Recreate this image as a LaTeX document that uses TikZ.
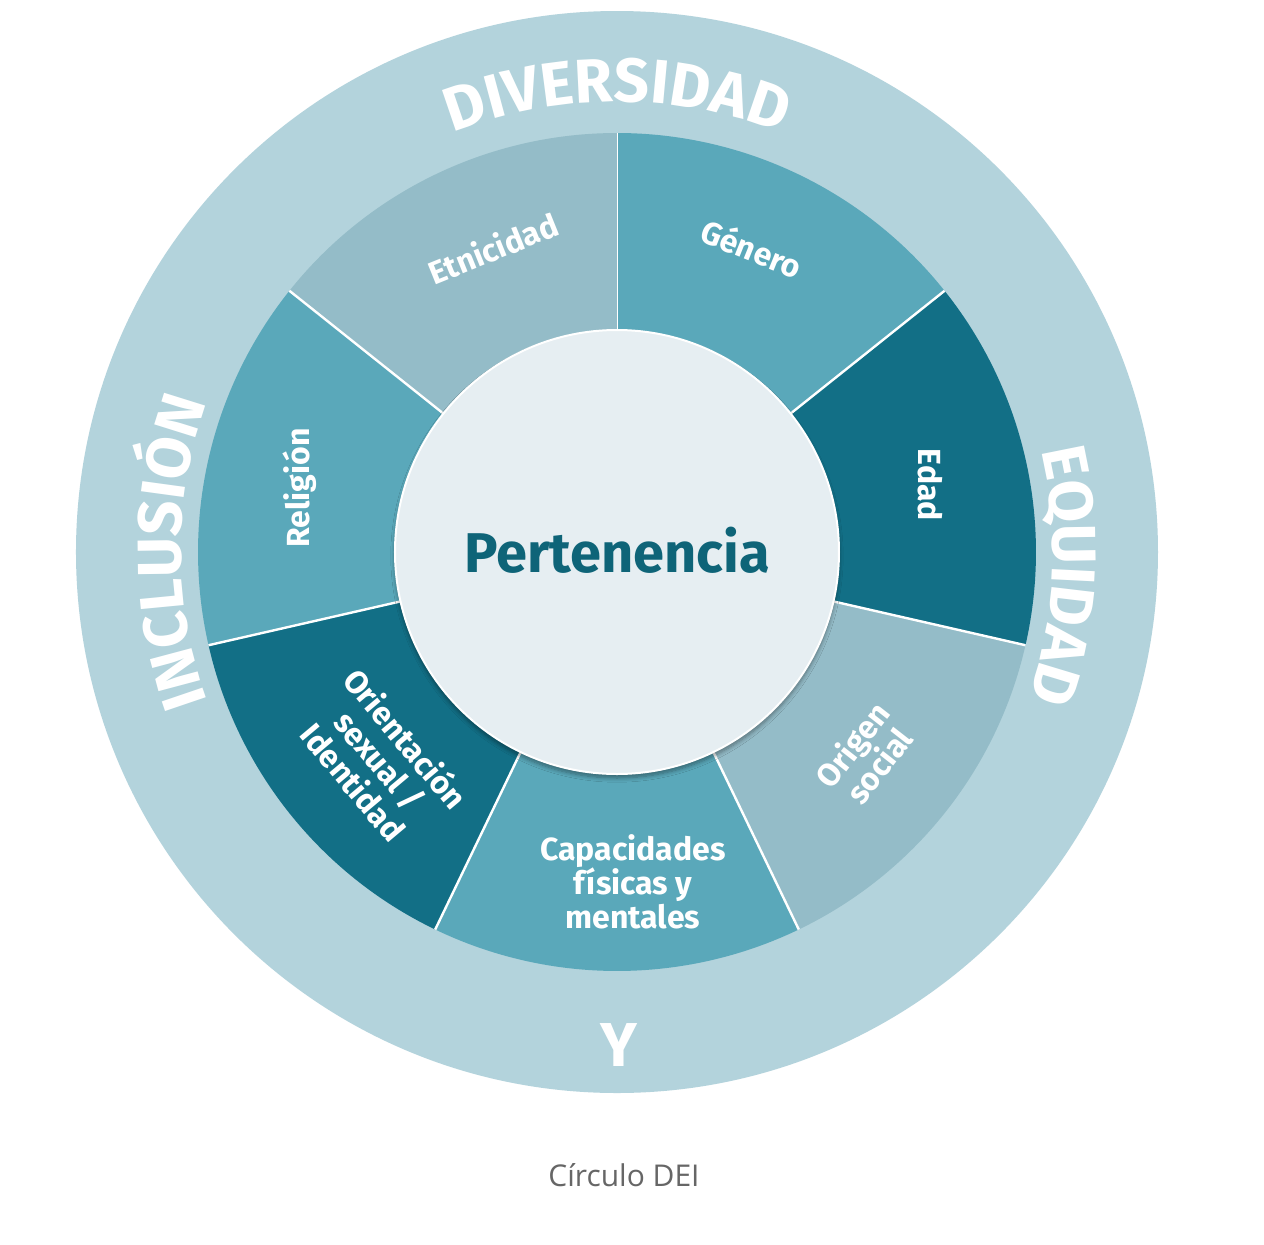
\documentclass[tikz,border=0pt]{standalone}
\usepackage{fontspec}
\setmainfont{Fira Sans}
\newfontfamily\capfont{Open Sans}
\usetikzlibrary{decorations.text,shadows.blur}
\definecolor{ringc}{HTML}{B3D3DC}
\definecolor{palec}{HTML}{94BCC8}
\definecolor{midc}{HTML}{5AA8BA}
\definecolor{deepc}{HTML}{126F86}
\definecolor{hubc}{HTML}{E6EEF2}
\definecolor{hubtext}{HTML}{0E6478}
\tikzset{
    seglabel/.style={font=\bfseries\fontsize{16}{17}\selectfont,text=white,align=center},
    ringtext/.style={decorate,decoration={text along path,text align=center,text color=white,
        text={|\bfseries\fontsize{31}{31}\selectfont|#1}}}
}
\begin{document}
\begin{tikzpicture}[x=0.5pt,y=0.5pt]
        \useasboundingbox[fill=white] (-617,-692) rectangle (647,552);
        % outer ring
        \fill[ringc] (0,0) circle (541);
        % sectors
        \foreach \col [count=\i from 0] in {midc,deepc,palec,midc,deepc,midc,palec}{
            \pgfmathsetmacro\a{90-\i*360/7}
            \fill[\col] (0,0) -- (\a:419) arc[start angle=\a, end angle=\a-360/7, radius=419] -- cycle;
            \draw[white,line width=1.2pt] (0,0) -- (\a:419);
        }
        % hub
        \node[circle,fill=hubc,minimum size=222pt,draw=white,line width=1pt,blur shadow={shadow blur steps=8,shadow xshift=0pt,shadow yshift=-2pt}] (hub) at (0,0) {};
        \node[font=\bfseries\fontsize{28}{28}\selectfont,text=hubtext] (pert) at (0,2) {Pertenencia};
        % sector labels
        \node[seglabel,rotate=22] (etni) at (-124,304) {Etnicidad};
        \node[seglabel,rotate=-22] (gen) at (135,304) {Género};
        \node[seglabel,rotate=-90] (edad) at (313,67) {Edad};
        \node[seglabel,rotate=52] (orig) at (248,-203) {Origen\\social};
        \node[seglabel] (capa) at (16,-330) {Capacidades\\físicas y\\mentales};
        \node[seglabel,rotate=-50] (orie) at (-237,-208) {Orientación\\sexual /\\Identidad};
        \node[seglabel,rotate=90] (reli) at (-317,64) {Religión};
        % ring words
        \path[ringtext=DIVERSIDAD] (150:450) arc[start angle=150, end angle=30, radius=450];
        \path[ringtext=INCLUSIÓN] (240:436) arc[start angle=240, end angle=120, radius=436];
        \path[ringtext=EQUIDAD] (32:436) arc[start angle=32, end angle=-38, radius=436];
        \node[font=\bfseries\fontsize{31}{31}\selectfont,text=white] (y) at (2,-493) {Y};
        % caption
        \node[font=\capfont\fontsize{15}{15}\selectfont,text=black!60] (cap) at (7,-623) {Círculo DEI};
\end{tikzpicture}
\end{document}
